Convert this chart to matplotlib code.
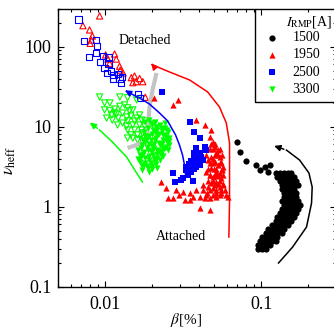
import matplotlib
matplotlib.use("Agg")
import matplotlib.pyplot as plt
from matplotlib.patches import Rectangle
from matplotlib.ticker import LogLocator, FixedLocator, NullFormatter

plt.rcParams["font.family"] = ["Liberation Serif", "DejaVu Serif"]
plt.rcParams["mathtext.fontset"] = "stix"

# 1500 A (attached only) - written row by row along the band
b1500 = [0.0698, 0.0726, 0.0793, 0.0920, 0.0975, 0.105, 0.113, 0.1097,
         0.1236, 0.131, 0.139, 0.1475, 0.156,
         0.127, 0.135, 0.143, 0.152, 0.161,
         0.131, 0.139, 0.1475, 0.156, 0.166,
         0.135, 0.143, 0.152, 0.161, 0.171,
         0.135, 0.143, 0.152, 0.161,
         0.139, 0.1475, 0.156, 0.166,
         0.139, 0.1475, 0.156, 0.166,
         0.135, 0.143, 0.152, 0.161, 0.171,
         0.139, 0.1475, 0.156, 0.166, 0.176,
         0.135, 0.143, 0.152, 0.161, 0.171,
         0.131, 0.139, 0.1475, 0.156, 0.166,
         0.127, 0.135, 0.143, 0.152, 0.161,
         0.1236, 0.131, 0.139, 0.1475, 0.156,
         0.1164, 0.1236, 0.131, 0.139, 0.1475,
         0.1097, 0.1164, 0.1236, 0.131, 0.139,
         0.1066, 0.113, 0.120, 0.127, 0.135,
         0.1005, 0.1066, 0.113, 0.120, 0.127,
         0.0975, 0.1035, 0.1097, 0.1164, 0.1236,
         0.0947, 0.1005, 0.1066, 0.113,
         0.0947, 0.1005, 0.1066]
n1500 = [6.5, 4.87, 3.76, 3.32, 2.87, 3.16, 3.32, 2.74,
         2.64, 2.64, 2.64, 2.64, 2.64,
         2.35, 2.35, 2.35, 2.35, 2.35,
         2.10, 2.10, 2.10, 2.10, 2.10,
         1.87, 1.87, 1.87, 1.87, 1.87,
         1.66, 1.66, 1.66, 1.66,
         1.48, 1.48, 1.48, 1.48,
         1.32, 1.32, 1.32, 1.32,
         1.18, 1.18, 1.18, 1.18, 1.18,
         1.05, 1.05, 1.05, 1.05, 1.05,
         0.935, 0.935, 0.935, 0.935, 0.935,
         0.834, 0.834, 0.834, 0.834, 0.834,
         0.743, 0.743, 0.743, 0.743, 0.743,
         0.662, 0.662, 0.662, 0.662, 0.662,
         0.590, 0.590, 0.590, 0.590, 0.590,
         0.526, 0.526, 0.526, 0.526, 0.526,
         0.469, 0.469, 0.469, 0.469, 0.469,
         0.418, 0.418, 0.418, 0.418, 0.418,
         0.372, 0.372, 0.372, 0.372, 0.372,
         0.332, 0.332, 0.332, 0.332,
         0.296, 0.296, 0.296]

# 1950 A
b1950_att = [0.0204, 0.0292, 0.0271, 0.0383, 0.0433, 0.0478, 0.0466, 0.0490, 0.0502, 0.0527,
             0.0515, 0.0540, 0.0478, 0.0455, 0.0554, 0.0502, 0.0527, 0.0568, 0.0478, 0.0444,
             0.0515, 0.0540, 0.0490, 0.0554, 0.0515, 0.0478, 0.0455, 0.0422, 0.0490, 0.0540,
             0.0582, 0.0611, 0.0515, 0.0466, 0.0433, 0.0402, 0.0364, 0.0347, 0.0322, 0.0299,
             0.0285, 0.0271, 0.0252, 0.0229, 0.0246, 0.0402, 0.0466, 0.0515, 0.0554, 0.0314,
             0.0347, 0.0383, 0.050, 0.052, 0.047, 0.053, 0.056, 0.049, 0.045, 0.057,
             0.0478, 0.0502, 0.0466, 0.0490, 0.0540, 0.0444, 0.0502, 0.0527, 0.0560,
             0.0466, 0.0490, 0.0540, 0.0455, 0.0515, 0.0560, 0.0466, 0.0502, 0.0527, 0.0570,
             0.0455, 0.0490, 0.0540, 0.0422, 0.0502, 0.0568, 0.0466, 0.0515, 0.0554,
             0.0444, 0.0490, 0.0540, 0.0590]
n1950_att = [23.0, 21.6, 18.7, 12.1, 10.5, 9.1, 7.5, 6.5, 5.62, 5.1,
             4.65, 4.22, 4.22, 3.83, 3.65, 3.65, 3.32, 3.16, 3.02, 2.74,
             2.74, 2.61, 2.37, 2.26, 2.05, 1.96, 1.78, 1.62, 1.70, 1.78,
             1.62, 1.33, 1.33, 1.27, 1.27, 1.33, 1.33, 1.21, 1.21, 1.40,
             1.62, 1.27, 1.27, 2.05, 1.70, 0.955, 0.91, 1.47, 1.47, 1.54,
             1.47, 1.62, 3.0, 2.4, 2.5, 1.9, 2.9, 4.0, 1.5, 1.9,
             6.0, 6.0, 5.3, 5.3, 5.3, 4.4, 4.4, 4.4, 4.4,
             3.5, 3.5, 3.5, 3.0, 3.0, 3.0, 2.5, 2.5, 2.5, 2.5,
             2.1, 2.1, 2.1, 1.85, 1.85, 1.85, 1.6, 1.6, 1.6,
             1.4, 1.4, 1.4, 1.4]
b1950_det = [0.0092, 0.00719, 0.00793, 0.00826, 0.00814, 0.0080, 0.01005, 0.01147, 0.0104, 0.01176,
             0.01066, 0.01235, 0.01248, 0.0130, 0.01468, 0.0154, 0.0166, 0.0158, 0.0174, 0.01503,
             0.01804]
n1950_det = [242, 183, 162, 136, 121, 110, 79, 81, 70, 70,
             62, 57, 51, 47, 41, 43, 40, 36.5, 36.5, 35.5,
             23.3]

# 2500 A
b2500_att = [0.0347, 0.0373, 0.0402, 0.0433, 0.0383, 0.0373, 0.0402, 0.0412, 0.0392, 0.0364,
             0.0347, 0.0330, 0.0356, 0.0383, 0.0402, 0.0422, 0.0338, 0.0271, 0.0278, 0.0314,
             0.0307, 0.0364, 0.0444, 0.0231, 0.0395, 0.0378, 0.0360, 0.0350, 0.0342,
             0.0390, 0.0370, 0.0355, 0.0345, 0.0330, 0.0405, 0.0385, 0.0370, 0.0355, 0.0340]
n2500_att = [11.5, 8.66, 7.16, 5.62, 5.37, 4.65, 4.65, 4.22, 3.83, 3.49,
             3.16, 2.87, 2.87, 3.16, 3.32, 3.83, 2.61, 2.61, 2.05, 2.26,
             2.16, 2.1, 5.1, 27.4, 4.0, 3.7, 3.3, 3.0, 2.8,
             4.4, 4.1, 3.7, 3.4, 3.1, 3.7, 3.4, 3.0, 2.7, 2.5]
b2500_det = [0.00674, 0.0073, 0.00867, 0.00884, 0.00785, 0.00867, 0.00965, 0.0092, 0.0105, 0.0105,
             0.0099, 0.0103, 0.0109, 0.0113, 0.0120, 0.01235, 0.0112, 0.01266, 0.01285, 0.0163,
             0.0166]
n2500_det = [219, 119, 121, 103, 75, 83, 77, 64, 74, 61,
             54, 47, 50, 44, 46, 40, 40, 35.5, 42, 25.4,
             22.6]

# 3300 A
b3300_att = [0.0192, 0.0207, 0.0223, 0.0240, 0.0251, 0.0258, 0.0247, 0.0233, 0.0216, 0.0201,
             0.0187, 0.0176, 0.0192, 0.0207, 0.0223, 0.0240, 0.0230, 0.0213, 0.0198, 0.0181,
             0.0173, 0.0187, 0.0201, 0.0216, 0.0207, 0.0192, 0.0181, 0.0168, 0.0168, 0.0176,
             0.0187, 0.0198, 0.0213, 0.0223, 0.0233, 0.0251, 0.0258, 0.0181, 0.0198, 0.0216,
             0.0233, 0.0168, 0.0161, 0.0173, 0.0192, 0.0207, 0.0230, 0.0245, 0.0185, 0.0195,
             0.0178, 0.0205, 0.0220, 0.0162, 0.0200, 0.0212, 0.0240,
             0.0195, 0.0215, 0.0230, 0.0250, 0.0200, 0.0220, 0.0240, 0.0255, 0.0180, 0.0195,
             0.0210, 0.0230, 0.0245, 0.0175, 0.0190, 0.0205, 0.0220, 0.0235, 0.0170, 0.0185,
             0.0200, 0.0215, 0.0228, 0.0175, 0.0190, 0.0205, 0.0195, 0.0180, 0.0172, 0.0210,
             0.0185, 0.0164, 0.0170]
n3300_att = [12.1, 11.4, 10.5, 9.6, 8.6, 7.2, 6.4, 6.8, 7.9, 9.1,
             9.6, 8.6, 7.6, 6.8, 5.9, 5.4, 4.8, 5.1, 5.7, 6.4,
             5.9, 5.1, 4.4, 4.06, 3.6, 3.8, 4.06, 4.4, 3.6, 3.3,
             3.05, 3.2, 3.05, 3.8, 4.3, 5.1, 5.9, 11.4, 10.5, 9.1,
             7.9, 7.2, 5.1, 2.9, 2.7, 8.6, 8.8, 7.4, 7.0, 4.9,
             4.8, 6.0, 6.2, 4.0, 2.95, 10.0, 11.0,
             11.0, 10.0, 9.6, 9.0, 8.2, 8.0, 7.8, 6.6, 7.6, 6.8,
             7.2, 6.0, 5.6, 6.8, 6.0, 5.4, 5.0, 5.2, 5.4, 5.6,
             5.0, 4.6, 4.4, 4.6, 4.3, 4.0, 3.5, 3.5, 3.2, 3.4,
             3.2, 3.8, 4.2]
b3300_det = [0.0092, 0.0099, 0.0107, 0.0124, 0.0139, 0.0159, 0.0099, 0.0107, 0.0115, 0.0124,
             0.0133, 0.0139, 0.0143, 0.0129, 0.0118, 0.0110, 0.0102, 0.0111, 0.0121, 0.0137,
             0.0146, 0.0159, 0.0171, 0.0179, 0.0154, 0.0139, 0.0129, 0.0120, 0.0137, 0.0150,
             0.0166, 0.0179, 0.0139, 0.0154, 0.0171, 0.0146, 0.0161, 0.0173, 0.0150, 0.0161,
             0.0139, 0.0184, 0.0166, 0.0150, 0.0115]
n3300_det = [23.5, 19.8, 19.8, 23.5, 23.0, 21.6, 16.2, 15.8, 16.6, 18.0,
             18.7, 17.2, 15.8, 14.8, 14.4, 14.0, 12.8, 12.1, 12.8, 13.2,
             13.6, 12.8, 12.1, 11.8, 11.8, 11.8, 11.1, 10.5, 10.2, 10.5,
             10.5, 10.2, 9.1, 9.1, 9.1, 7.9, 7.9, 8.3, 7.2, 6.8,
             7.2, 7.4, 14.0, 16.2, 14.8]
labels = ["1500", "1950", "2500", "3300"]

# guide arrows (last point is the arrow tip)
red_arrow_b = [0.0620, 0.0626, 0.0626, 0.0626, 0.0597, 0.0540, 0.0453, 0.0347, 0.0258, 0.0201, 0.0197]
red_arrow_n = [0.418, 1.21, 2.87, 6.25, 11.1, 17.6, 27.2, 38.4, 48.3, 59.1, 62]
blue_arrow_b = [0.0327, 0.0322, 0.0313, 0.0299, 0.0282, 0.0251, 0.0223, 0.0192, 0.0166, 0.0143, 0.0129]
blue_arrow_n = [2.49, 3.32, 4.4, 5.9, 7.9, 11.8, 14.8, 19.2, 22.8, 26.4, 29.6]
green_arrow_b = [0.0173, 0.0154, 0.0137, 0.0111, 0.0092, 0.0077]
green_arrow_n = [2.04, 2.9, 4.18, 6.44, 9.1, 11.8]
black_arrow_b = [0.129, 0.1588, 0.195, 0.210, 0.212, 0.202, 0.176, 0.145, 0.1164]
black_arrow_n = [0.198, 0.313, 0.557, 1.11, 1.76, 2.64, 3.83, 5.1, 5.9]
gray_b = [0.0213, 0.0201, 0.0192, 0.0188, 0.0184, 0.0168, 0.0152, 0.0139]
gray_n = [46.9, 28.8, 17.6, 10.5, 7.2, 6.17, 5.74, 5.42]

fig = plt.figure(figsize=(3.34, 3.31), dpi=100)
ax = fig.add_axes([0.1746, 0.1338, 0.8305, 0.8405])
ax.set_xscale("log")
ax.set_yscale("log")
ax.set_xlim(0.005, 0.3)
ax.set_ylim(0.1, 300)

ms = 20
ax.plot(gray_b, gray_n, color="#c4c4c4", lw=3, solid_capstyle="butt", zorder=2)
ax.scatter(b1950_det, n1950_det, s=ms, marker="^", facecolors="none", edgecolors="red", lw=0.8, zorder=1)
ax.scatter(b2500_det, n2500_det, s=ms, marker="s", facecolors="none", edgecolors="blue", lw=0.8, zorder=1)
ax.scatter(b3300_det, n3300_det, s=ms, marker="v", facecolors="none", edgecolors="#00ff00", lw=0.8, zorder=1)
h1 = ax.scatter(b1500, n1500, s=ms, marker="o", color="black", lw=0, zorder=3)
h2 = ax.scatter(b1950_att, n1950_att, s=ms, marker="^", color="red", lw=0, zorder=3)
h3 = ax.scatter(b2500_att, n2500_att, s=ms, marker="s", color="blue", lw=0, zorder=3)
h4 = ax.scatter(b3300_att, n3300_att, s=ms, marker="v", color="#00ff00", lw=0, zorder=3)

for xs, ys, c in [(red_arrow_b, red_arrow_n, "red"), (blue_arrow_b, blue_arrow_n, "blue"),
                  (green_arrow_b, green_arrow_n, "#00ff00"), (black_arrow_b, black_arrow_n, "black")]:
    ax.plot(xs[:-1], ys[:-1], color=c, lw=1.1, zorder=4)
    ax.annotate("", xy=(xs[-1], ys[-1]), xytext=(xs[-2], ys[-2]),
                arrowprops=dict(arrowstyle="-|>", color=c, lw=1.1, mutation_scale=9), zorder=4)

ax.text(0.0122, 118, "Detached", fontsize=10, va="center", ha="left")
ax.text(0.0212, 0.42, "Attached", fontsize=10, va="center", ha="left")

ax.set_xlabel(r"$\beta$[%]", fontsize=11)
ax.xaxis.set_label_coords(0.46, -0.088)
ax.set_ylabel(r"$\nu_{\rm heff}$", fontsize=12)
ax.yaxis.set_label_coords(-0.145, 0.455)

ax.xaxis.set_major_locator(FixedLocator([0.01, 0.1]))
ax.xaxis.set_major_formatter(plt.FuncFormatter(lambda v, p: f"{v:g}"))
ax.xaxis.set_minor_locator(LogLocator(base=10, subs=range(2, 10)))
ax.xaxis.set_minor_formatter(NullFormatter())
ax.yaxis.set_major_locator(FixedLocator([0.1, 1, 10, 100]))
ax.yaxis.set_major_formatter(plt.FuncFormatter(lambda v, p: f"{v:g}"))
ax.yaxis.set_minor_locator(LogLocator(base=10, subs=range(2, 10)))
ax.yaxis.set_minor_formatter(NullFormatter())
ax.tick_params(which="both", direction="in", top=True, right=True, labelsize=13, width=0.8)
ax.tick_params(which="major", length=4.5)
ax.tick_params(axis="x", which="major", pad=7)
ax.tick_params(axis="y", which="major", pad=5)
ax.tick_params(which="minor", length=2.5)
for sp in ax.spines.values():
    sp.set_linewidth(1.0)

# legend: frame, title and entries placed separately
ax.add_patch(Rectangle((0.709, 0.664), 0.4, 0.4, transform=ax.transAxes, fill=False,
                       edgecolor="black", lw=1.0, zorder=5))
ax.text(0.822, 0.951, r"$I_{\rm RMP}$[A]", transform=ax.transAxes, fontsize=10,
        ha="left", va="center", zorder=6)
leg = ax.legend([h1, h2, h3, h4], labels, loc="upper left", bbox_to_anchor=(0.745, 0.918),
                borderaxespad=0, borderpad=0, frameon=False, fontsize=10,
                handlelength=1.0, handletextpad=1.0, labelspacing=0.3)
leg.set_zorder(6)

fig.savefig("out.png", dpi=100)
